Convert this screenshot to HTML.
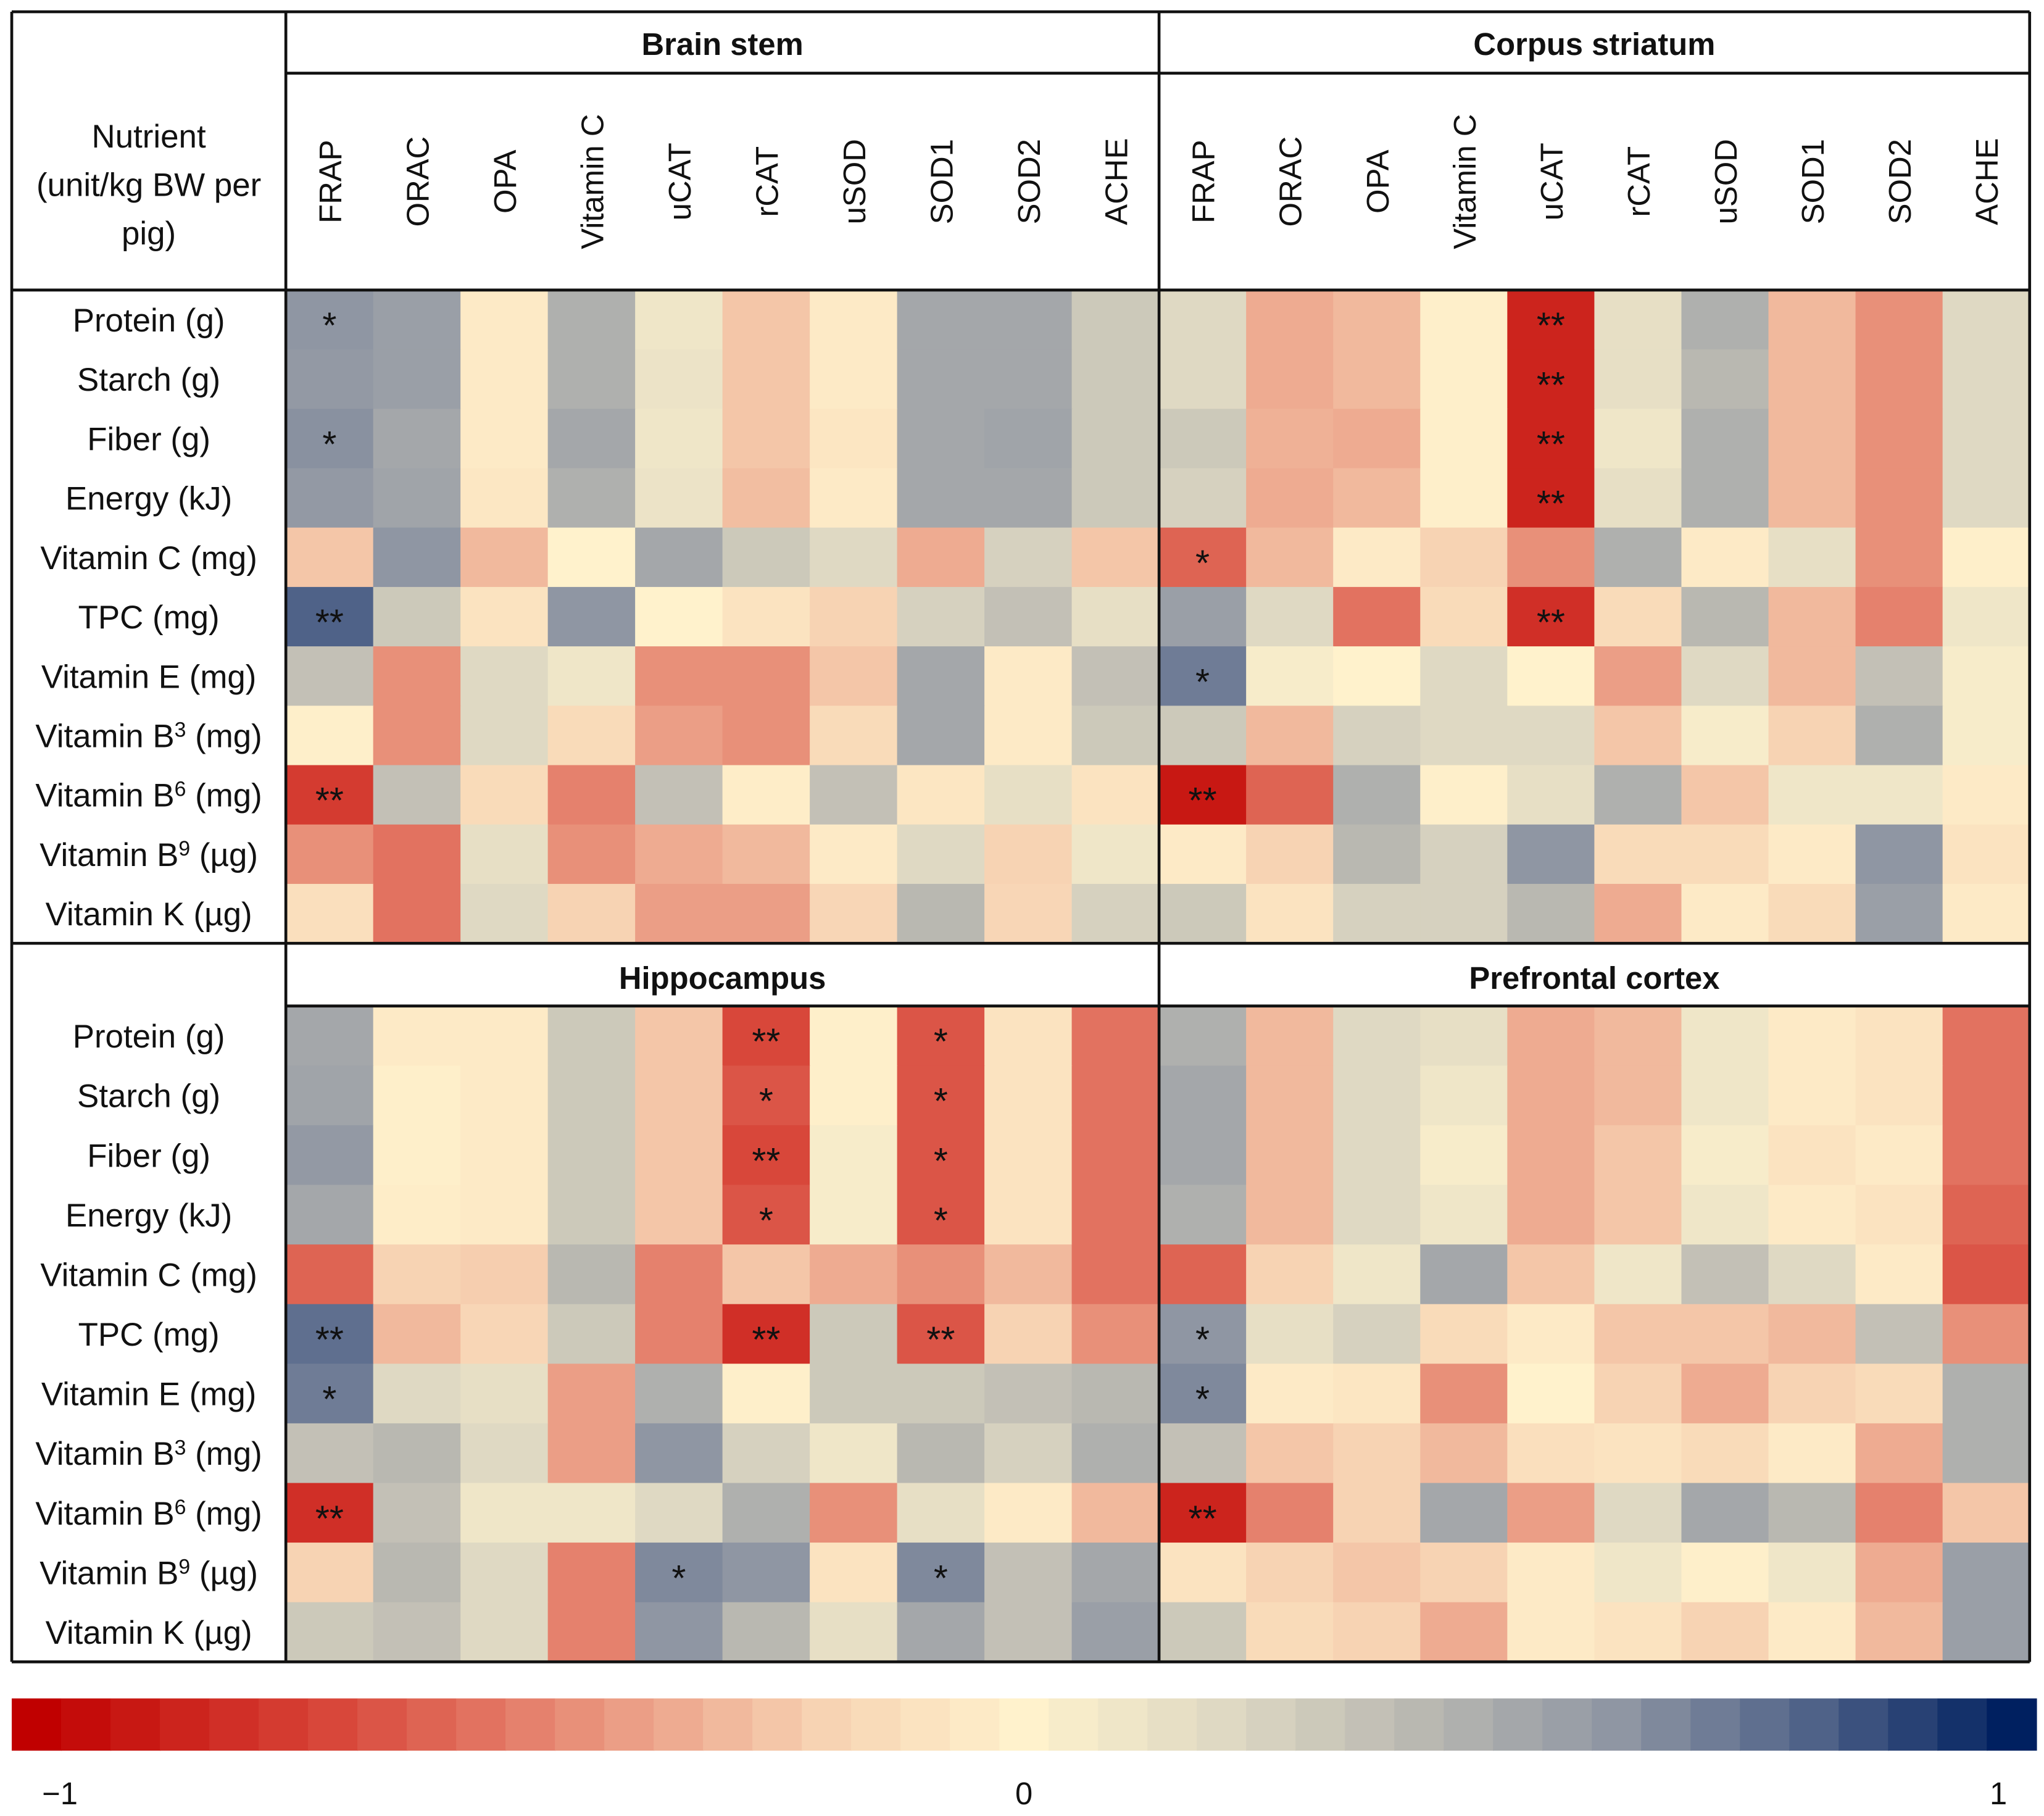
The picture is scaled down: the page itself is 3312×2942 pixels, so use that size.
<!DOCTYPE html>
<html><head><meta charset="utf-8"><style>
html,body{margin:0;padding:0;background:#fff;}
svg{display:block;}
text{font-family:"Liberation Sans","DejaVu Sans",sans-serif;}
</style></head><body>
<svg id="chart" width="3312" height="2942" viewBox="0 0 1566 1390" preserveAspectRatio="none" xmlns="http://www.w3.org/2000/svg"></svg>
<script>
const rowLabels = ["Protein (g)","Starch (g)","Fiber (g)","Energy (kJ)","Vitamin C (mg)","TPC (mg)","Vitamin E (mg)","Vitamin B|3| (mg)","Vitamin B|6| (mg)","Vitamin B|9| (µg)","Vitamin K  (µg)"];
const colLabels = ["FRAP","ORAC","OPA","Vitamin C","uCAT","rCAT","uSOD","SOD1","SOD2","ACHE"];
const panelTitles = ["Brain stem","Corpus striatum","Hippocampus","Prefrontal cortex"];
const brainStem = [
[0.6,0.55,-0.05,0.45,0.1,-0.25,-0.05,0.5,0.5,0.3],
[0.58,0.55,-0.05,0.45,0.12,-0.25,-0.05,0.5,0.5,0.3],
[0.62,0.5,-0.05,0.5,0.1,-0.25,-0.08,0.5,0.52,0.3],
[0.58,0.52,-0.07,0.45,0.12,-0.28,-0.05,0.5,0.5,0.3],
[-0.25,0.6,-0.3,0.0,0.5,0.3,0.2,-0.35,0.25,-0.25],
[0.8,0.3,-0.1,0.6,0.0,-0.1,-0.2,0.25,0.35,0.15],
[0.35,-0.45,0.2,0.1,-0.45,-0.45,-0.25,0.5,-0.05,0.35],
[-0.02,-0.45,0.2,-0.15,-0.4,-0.45,-0.15,0.5,-0.05,0.3],
[-0.75,0.35,-0.15,-0.5,0.35,-0.03,0.35,-0.08,0.15,-0.1],
[-0.45,-0.55,0.15,-0.45,-0.35,-0.3,-0.05,0.2,-0.2,0.1],
[-0.12,-0.55,0.2,-0.2,-0.4,-0.4,-0.18,0.4,-0.18,0.25]];
const corpusStriatum = [
[0.2,-0.35,-0.3,-0.02,-0.85,0.15,0.45,-0.3,-0.45,0.2],
[0.2,-0.35,-0.3,-0.02,-0.85,0.15,0.4,-0.3,-0.45,0.2],
[0.3,-0.33,-0.35,-0.02,-0.85,0.1,0.45,-0.3,-0.45,0.2],
[0.25,-0.35,-0.3,-0.02,-0.85,0.15,0.45,-0.3,-0.45,0.2],
[-0.6,-0.3,-0.05,-0.2,-0.45,0.45,-0.05,0.15,-0.45,-0.02],
[0.55,0.2,-0.55,-0.15,-0.8,-0.15,0.4,-0.3,-0.5,0.1],
[0.7,0.05,0.0,0.2,0.0,-0.4,0.2,-0.3,0.35,0.05],
[0.3,-0.3,0.25,0.2,0.2,-0.25,0.05,-0.2,0.45,0.05],
[-0.9,-0.6,0.45,-0.02,0.15,0.45,-0.25,0.1,0.1,-0.05],
[-0.05,-0.2,0.4,0.25,0.6,-0.15,-0.15,-0.05,0.6,-0.1],
[0.3,-0.1,0.25,0.25,0.4,-0.35,-0.05,-0.15,0.55,-0.05]];
const hippocampus = [
[0.5,-0.05,-0.05,0.3,-0.25,-0.7,-0.02,-0.65,-0.1,-0.55],
[0.52,-0.02,-0.05,0.3,-0.25,-0.65,-0.02,-0.65,-0.1,-0.55],
[0.58,-0.02,-0.05,0.3,-0.25,-0.7,0.05,-0.65,-0.1,-0.55],
[0.5,-0.03,-0.05,0.3,-0.25,-0.65,0.05,-0.65,-0.1,-0.55],
[-0.6,-0.2,-0.22,0.4,-0.5,-0.25,-0.35,-0.45,-0.3,-0.55],
[0.75,-0.3,-0.18,0.3,-0.5,-0.8,0.3,-0.65,-0.2,-0.45],
[0.7,0.2,0.15,-0.4,0.45,-0.02,0.3,0.3,0.35,0.4],
[0.35,0.4,0.2,-0.4,0.6,0.25,0.1,0.4,0.25,0.45],
[-0.8,0.35,0.1,0.1,0.2,0.45,-0.45,0.15,-0.05,-0.3],
[-0.2,0.4,0.2,-0.5,0.65,0.6,-0.1,0.65,0.35,0.5],
[0.3,0.35,0.2,-0.5,0.6,0.4,0.15,0.5,0.35,0.55]];
const prefrontalCortex = [
[0.45,-0.3,0.2,0.15,-0.35,-0.3,0.1,-0.05,-0.1,-0.55],
[0.5,-0.3,0.2,0.1,-0.35,-0.3,0.1,-0.05,-0.1,-0.55],
[0.5,-0.3,0.2,0.05,-0.35,-0.25,0.05,-0.1,-0.05,-0.55],
[0.45,-0.3,0.2,0.1,-0.35,-0.25,0.1,-0.05,-0.1,-0.6],
[-0.6,-0.2,0.1,0.5,-0.25,0.1,0.35,0.2,-0.05,-0.65],
[0.6,0.15,0.25,-0.15,-0.05,-0.25,-0.25,-0.3,0.35,-0.45],
[0.65,-0.05,-0.08,-0.45,0.0,-0.2,-0.35,-0.2,-0.15,0.45],
[0.35,-0.25,-0.2,-0.3,-0.12,-0.1,-0.15,-0.05,-0.35,0.45],
[-0.85,-0.5,-0.2,0.5,-0.4,0.2,0.5,0.4,-0.5,-0.25],
[-0.1,-0.2,-0.25,-0.2,-0.05,0.1,-0.02,0.1,-0.35,0.55],
[0.3,-0.15,-0.2,-0.35,-0.05,-0.1,-0.2,-0.05,-0.3,0.55]];
const sigBrainStem = [[0,0,"*"],[2,0,"*"],[5,0,"**"],[8,0,"**"]];
const sigCorpus = [[0,4,"**"],[1,4,"**"],[2,4,"**"],[3,4,"**"],[4,0,"*"],[5,4,"**"],[6,0,"*"],[8,0,"**"]];
const sigHippo = [[0,5,"**"],[1,5,"*"],[2,5,"**"],[3,5,"*"],[5,5,"**"],[0,7,"*"],[1,7,"*"],[2,7,"*"],[3,7,"*"],[5,7,"**"],[5,0,"**"],[6,0,"*"],[8,0,"**"],[9,4,"*"],[9,7,"*"]];
const sigPrefrontal = [[5,0,"*"],[6,0,"*"],[8,0,"**"]];
const colorbarTicks = [-1,0,1];

const NS="http://www.w3.org/2000/svg";
const svg=document.getElementById('chart');
function el(t,a,p){const e=document.createElementNS(NS,t);for(const k in a)e.setAttribute(k,a[k]);(p||svg).appendChild(e);return e;}
const stops=[[-1,[192,0,0]],[-0.7,[216,71,58]],[-0.4,[235,158,134]],[-0.2,[247,211,179]],[0,[255,242,204]],[0.2,[223,217,195]],[0.4,[185,184,177]],[0.6,[143,150,163]],[0.8,[79,98,136]],[1,[0,32,96]]];
function color(v){v=Math.max(-1,Math.min(1,v));for(let i=0;i<stops.length-1;i++){const a=stops[i],b=stops[i+1];if(v<=b[0]){const t=(v-a[0])/(b[0]-a[0]);const c=a[1].map((x,j)=>Math.round(x+(b[1][j]-x)*t));return`rgb(${c})`;}}return'rgb(0,32,96)';}

const L=9,LC=219,MID=888,R=1555;
const panels=[
 {data:brainStem,sig:sigBrainStem,x0:LC,x1:MID,y0:222,y1:722,name:'brain-stem'},
 {data:corpusStriatum,sig:sigCorpus,x0:MID,x1:R,y0:222,y1:722,name:'corpus-striatum'},
 {data:hippocampus,sig:sigHippo,x0:LC,x1:MID,y0:770,y1:1272,name:'hippocampus'},
 {data:prefrontalCortex,sig:sigPrefrontal,x0:MID,x1:R,y0:770,y1:1272,name:'prefrontal-cortex'}];
panels.forEach(p=>{
 const g=el('g',{});
 
 
 const cw=(p.x1-p.x0)/colLabels.length, rh=(p.y1-p.y0)/rowLabels.length;
 p.data.forEach((row,r)=>row.forEach((v,c)=>{
  const rc=el('rect',{x:p.x0+c*cw,y:p.y0+r*rh,width:cw+0.6,height:rh+0.6,fill:color(v)},g);
  
  
 }));
 p.sig.forEach(s=>{
  const t=el('text',{x:p.x0+(s[1]+0.5)*cw,y:p.y0+(s[0]+0.5)*rh+14,'text-anchor':'middle','font-size':28,fill:'#111'},g);
  t.textContent=s[2];
  
  
 });
 rowLabels.forEach((lab,r)=>{
  if(p.x0!==LC) return;
  const t=el('text',{x:114,y:p.y0+(r+0.5)*rh+9,'text-anchor':'middle','font-size':25,fill:'#111'});
  const parts=lab.split('|');
  parts.forEach((s,i)=>{const ts=el('tspan',i===1?{'font-size':16,dy:-8}:(i===2?{dy:8}:{}),t);ts.textContent=s;});
  
  
 });
});
[LC,MID].forEach(x0=>{
 const cw=(x0===LC?(MID-LC):(R-MID))/10;
 colLabels.forEach((lab,c)=>{
  const cx=x0+(c+0.5)*cw;
  const t=el('text',{x:0,y:0,transform:`translate(${cx+9},139) rotate(-90)`,'text-anchor':'middle','font-size':24,fill:'#111'});
  t.textContent=lab;
  
  
 });
});
[[panelTitles[0],(LC+MID)/2,42],[panelTitles[1],(MID+R)/2,42],[panelTitles[2],(LC+MID)/2,757],[panelTitles[3],(MID+R)/2,757]].forEach(a=>{
 const t=el('text',{x:a[1],y:a[2],'text-anchor':'middle','font-size':24,'font-weight':'bold',fill:'#111'});
 t.textContent=a[0];
 
 
});
['Nutrient','(unit/kg BW per','pig)'].forEach((s,i)=>{
 const t=el('text',{x:114,y:113+i*37,'text-anchor':'middle','font-size':25,fill:'#111'});
 t.textContent=s;
 
 
});
const lines=[[L,9,R,9],[L,222,R,222],[L,722,R,722],[L,1272,R,1272],[LC,56,R,56],[LC,770,R,770],[L,9,L,1272],[R,9,R,1272],[LC,9,LC,1272],[MID,9,MID,1272]];
lines.forEach(l=>{const ln=el('line',{x1:l[0],y1:l[1],x2:l[2],y2:l[3],stroke:'#111','stroke-width':2.2});});
const cb=el('g',{});


const N=41,cbx0=9,cbx1=1560,sw=(cbx1-cbx0)/N;
for(let i=0;i<N;i++){const v=-1+2*i/(N-1);el('rect',{x:cbx0+i*sw,y:1300,width:sw+0.6,height:40,fill:color(v)},cb);}
const cbX=v=>cbx0+sw/2+(v+1)/2*(cbx1-cbx0-sw);
colorbarTicks.forEach(v=>{
 const t=el('text',{x:cbX(v)+(v===-1?18:(v===1?-10:0)),y:1381,'text-anchor':'middle','font-size':24,fill:'#111'},cb);
 t.textContent=v<0?'\u22121':String(v);
 
 
});
</script>
</body></html>
